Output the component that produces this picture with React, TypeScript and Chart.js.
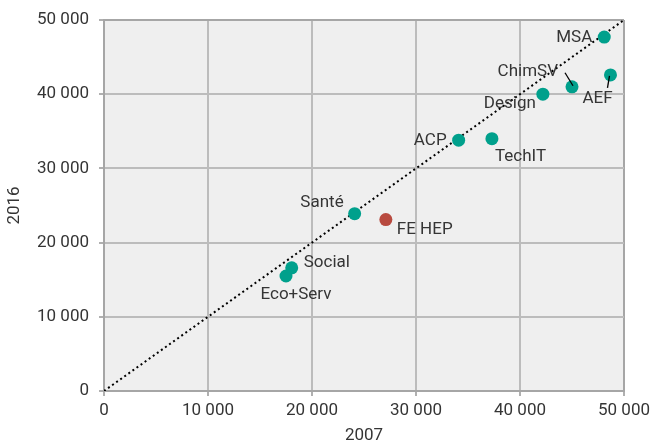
import React, { useEffect, useRef } from "react";
import { Chart, registerables } from "chart.js";

Chart.register(...registerables);

const names = ["MSA", "AEF", "ChimSV", "Design", "ACP", "TechIT", "Santé", "FE HEP", "Social", "Eco+Serv"];
const values2007 = [48100, 48700, 45000, 42200, 34100, 37300, 24100, 27100, 18050, 17500];
const values2016 = [47700, 42600, 41000, 40000, 33800, 34000, 23900, 23100, 16600, 15500];
const xTicks = [0, 10000, 20000, 30000, 40000, 50000];
const yTicks = [0, 10000, 20000, 30000, 40000, 50000];
const xTitle = "2007";
const yTitle = "2016";

// label styling: offsets in px, alignment, optional leader line
const labelStyle: { dx: number; dy: number; align: CanvasTextAlign; leader?: [number, number, number, number] }[] = [
  { dx: -12, dy: 1, align: "right" },
  { dx: -13, dy: 24, align: "center", leader: [-1, 1, -3, 13] },
  { dx: -14, dy: -15, align: "right", leader: [-7, -14, 1, -1] },
  { dx: -7, dy: 10, align: "right" },
  { dx: -12, dy: 1, align: "right" },
  { dx: 3, dy: 18, align: "left" },
  { dx: -11, dy: -11, align: "right" },
  { dx: 11, dy: 10, align: "left" },
  { dx: 12, dy: -5, align: "left" },
  { dx: 10, dy: 19, align: "center" },
];
const teal = "#00a08c";
const red = "#b84a3f";
const pointColors = names.map((n) => (n === "FE HEP" ? red : teal));

const fmt = (v: number) => {
  const s = Math.round(v).toString();
  return s.replace(/\B(?=(\d{3})+(?!\d))/g, " ");
};

const FONT = "Roboto, 'Noto Sans', sans-serif";
const TEXT = "#353535";

export default function App() {
  const ref = useRef<HTMLCanvasElement>(null);
  useEffect(() => {
    document.body.style.margin = "0";
    const ctx = ref.current!.getContext("2d")!;
    const bgPlugin = {
      id: "bg",
      beforeDraw(chart: any) {
        const { ctx, chartArea: a } = chart;
        ctx.save();
        ctx.fillStyle = "#efefef";
        ctx.fillRect(a.left, a.top, a.right - a.left, a.bottom - a.top);
        ctx.restore();
      },
    };
    const labelPlugin = {
      id: "labels",
      afterDatasetsDraw(chart: any) {
        const meta = chart.getDatasetMeta(0);
        const c = chart.ctx;
        c.save();
        c.font = `17px ${FONT}`;
        c.fillStyle = TEXT;
        c.textBaseline = "middle";
        meta.data.forEach((el: any, i: number) => {
          const st = labelStyle[i];
          c.textAlign = st.align;
          c.fillText(names[i], el.x + st.dx, el.y + st.dy);
          if (st.leader) {
            c.beginPath();
            c.strokeStyle = "#000";
            c.lineWidth = 1.3;
            c.moveTo(el.x + st.leader[0], el.y + st.leader[1]);
            c.lineTo(el.x + st.leader[2], el.y + st.leader[3]);
            c.stroke();
          }
        });
        c.restore();
      },
    };
    const gridColor = (ctx: any) =>
      ctx.tick && (ctx.tick.value === 0 || ctx.tick.value === 50000) ? "#a6a6a6" : "#bcbcbc";
    const chart = new Chart(ctx, {
      type: "scatter",
      data: {
        datasets: [
          {
            type: "scatter",
            data: names.map((_, i) => ({ x: values2007[i], y: values2016[i] })),
            backgroundColor: pointColors,
            borderColor: pointColors,
            pointRadius: 6.5,
            borderWidth: 0,
            order: 0,
          },
          {
            type: "line",
            data: [
              { x: 0, y: 0 },
              { x: 50000, y: 50000 },
            ],
            borderColor: "#000",
            borderWidth: 2,
            borderDash: [2, 3],
            pointRadius: 0,
            order: 1,
          } as any,
        ],
      },
      options: {
        responsive: false,
        animation: false,
        layout: { padding: { top: 20, right: 28, left: 0, bottom: 0 } },
        plugins: { legend: { display: false }, tooltip: { enabled: false } },
        scales: {
          x: {
            type: "linear",
            min: 0,
            max: 50000,
            afterBuildTicks: (s: any) => {
              s.ticks = xTicks.map((v) => ({ value: v }));
            },
            afterFit: (s: any) => {
              s.height = 53;
              s.paddingLeft = 0;
              s.paddingRight = 0;
            },
            ticks: {
              callback: (v: any) => fmt(Number(v)),
              font: { family: FONT, size: 17 },
              color: TEXT,
              padding: 5,
              maxRotation: 0,
            },
            grid: { color: gridColor, lineWidth: 2, tickLength: 5, tickColor: "#b0b0b0" },
            border: { display: true, color: "#a6a6a6", width: 2 },
            title: {
              display: true,
              text: xTitle,
              font: { family: FONT, size: 17, lineHeight: 1 },
              color: TEXT,
              padding: { top: 0, bottom: 0 },
            },
          },
          y: {
            type: "linear",
            min: 0,
            max: 50000,
            afterBuildTicks: (s: any) => {
              s.ticks = yTicks.map((v) => ({ value: v }));
            },
            afterFit: (s: any) => {
              s.width = 104;
              s.paddingTop = 0;
              s.paddingBottom = 0;
            },
            ticks: {
              callback: (v: any) => fmt(Number(v)),
              font: { family: FONT, size: 17 },
              color: TEXT,
              padding: 10,
            },
            grid: { color: gridColor, lineWidth: 2, tickLength: 5, tickColor: "#b0b0b0" },
            border: { display: true, color: "#a6a6a6", width: 2 },
            title: {
              display: true,
              text: yTitle,
              font: { family: FONT, size: 17, lineHeight: 1 },
              color: TEXT,
              padding: { top: 6, bottom: 0 },
            },
          },
        },
      },
      plugins: [bgPlugin, labelPlugin],
    } as any);
    return () => chart.destroy();
  }, []);
  return (
    <div style={{ position: "absolute", left: 0, top: 0, width: 652, height: 444 }}>
      <canvas ref={ref} width={652} height={444} style={{ width: 652, height: 444 }} />
    </div>
  );
}
